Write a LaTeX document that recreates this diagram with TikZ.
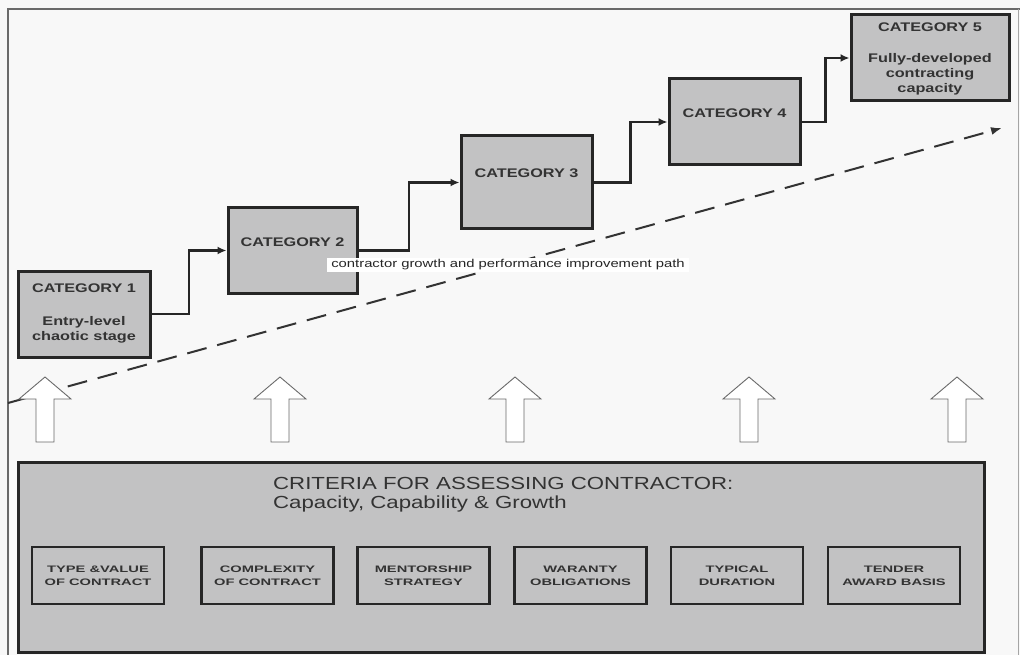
\documentclass[tikz,border=0pt]{standalone}
\usepackage{fontspec}
\setmainfont{Liberation Sans}
\newfontfamily\wideA{Liberation Sans}[FakeStretch=1.3]
\newfontfamily\wideB{Liberation Sans}[FakeStretch=1.56]
\newfontfamily\wideT{Liberation Sans}[FakeStretch=1.27]
\usetikzlibrary{arrows.meta,calc}

\definecolor{bgcol}{HTML}{F8F8F8}
\definecolor{boxfill}{HTML}{C2C2C3}
\definecolor{edge}{HTML}{262626}
\definecolor{ink}{HTML}{333333}
\definecolor{framecol}{HTML}{6A6A6A}

\tikzset{
  catbox/.style={draw=edge, fill=boxfill, line width=3pt, rectangle, inner sep=0pt},
  cattext/.style={text=ink, font=\wideA\bfseries\fontsize{12.5}{15}\selectfont, align=center, inner sep=0pt},
  conn/.style={draw=edge, line width=2.6pt, -{Latex[length=9pt,width=8pt]}},
  growth/.style={draw=ink, line width=2pt, dash pattern=on 20pt off 11pt, -{Latex[length=11pt,width=8pt]}},
  pathlabel/.style={fill=white, text=edge, font=\wideA\fontsize{11.4}{13}\selectfont, inner xsep=4pt, inner ysep=2pt},
  hollow/.style={draw=framecol, fill=white, line width=0.9pt, line join=miter},
  critbox/.style={draw=edge, fill=boxfill, line width=3pt, rectangle, inner sep=0pt},
  titletext/.style={text=ink, font=\wideT\fontsize{17.5}{19}\selectfont, align=left, inner sep=0pt},
  critem/.style={draw=edge, fill=boxfill, line width=2.6pt, rectangle, minimum width=132, minimum height=57,
    text=ink, font=\wideB\bfseries\fontsize{9.4}{13}\selectfont, align=center, inner sep=0pt}
}

\begin{document}
\begin{tikzpicture}[x=1pt,y=-1pt]
\useasboundingbox (0,0) rectangle (1020,655);
\fill[bgcol] (0,0) rectangle (1020,655);

% page frame
\draw[framecol, line width=1.4pt] (8,655) -- (8,9) -- (1020,9);
\draw[framecol!60, line width=0.8pt] (1018,9) -- (1018,655);

% category boxes
\node[catbox, minimum width=132, minimum height=86] (c1) at (84,314) {};
\node[catbox, minimum width=129, minimum height=85] (c2) at (292.5,250.5) {};
\node[catbox, minimum width=131, minimum height=93] (c3) at (526.5,182.5) {};
\node[catbox, minimum width=131, minimum height=86] (c4) at (734.5,122) {};
\node[catbox, minimum width=158, minimum height=86] (c5) at (930,58) {};

\node[cattext] (c1t) at (84,288) {CATEGORY 1};
\node[cattext] (c1s) at (84,329.5) {Entry-level\\chaotic stage};
\node[cattext] (c2t) at (292.5,242) {CATEGORY 2};
\node[cattext] (c3t) at (526.5,173) {CATEGORY 3};
\node[cattext] (c4t) at (734.5,113) {CATEGORY 4};
\node[cattext] (c5t) at (930,27) {CATEGORY 5};
\node[cattext] (c5s) at (930,74) {Fully-developed\\contracting\\capacity};

% stepped connectors between categories
\draw[conn] (c1.east) -- ($(c1.east)!.5!(c1.east -| c2.west)$) |- (c2.west);
\draw[conn] (c2.east) -- ($(c2.east)!.5!(c2.east -| c3.west)$) |- (c3.west);
\draw[conn] (c3.east) -- ($(c3.east)!.5!(c3.east -| c4.west)$) |- (c4.west);
\draw[conn] (c4.east) -- ($(c4.east)!.5!(c4.east -| c5.west)$) |- (c5.west);

% overall growth trend
\coordinate (gs) at (8,403);
\coordinate (ge) at (1002,128);
\draw[growth] (gs) -- (ge);
\node[pathlabel] (gl) at (508,265) {contractor growth and performance improvement path};

% hollow up arrows
\foreach \cx in {45,280,515,749,957}
  \draw[hollow] (\cx,377) -- (\cx+26,399) -- (\cx+9,399) -- (\cx+9,442)
    -- (\cx-9,442) -- (\cx-9,399) -- (\cx-26,399) -- cycle;

% criteria panel
\node[critbox, minimum width=966, minimum height=190] (crit) at (501,557) {};
\node[titletext, anchor=north west] (critt) at (273,477)
  {CRITERIA FOR ASSESSING CONTRACTOR:\\Capacity, Capability \& Growth};

\node[critem] (k1) at (98,575.5) {TYPE \&VALUE\\OF CONTRACT};
\node[critem] (k2) at (267.5,575.5) {COMPLEXITY\\OF CONTRACT};
\node[critem] (k3) at (423.5,575.5) {MENTORSHIP\\STRATEGY};
\node[critem] (k4) at (580.5,575.5) {WARANTY\\OBLIGATIONS};
\node[critem] (k5) at (737,575.5) {TYPICAL\\DURATION};
\node[critem] (k6) at (894,575.5) {TENDER\\AWARD BASIS};
\end{tikzpicture}
\end{document}
